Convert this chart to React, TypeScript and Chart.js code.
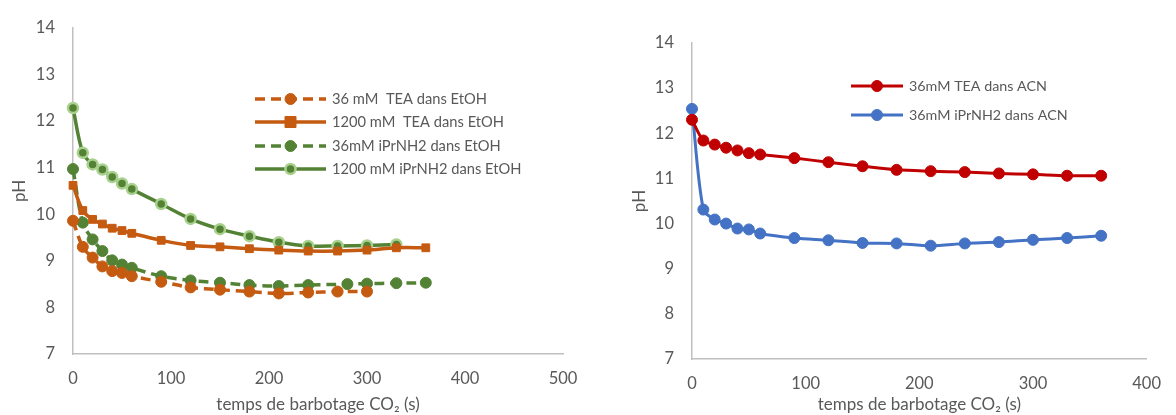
import React, { useEffect, useRef } from 'react';
import { Chart, registerables } from 'chart.js';

Chart.register(...registerables);

const FONT = 'Lato, "Open Sans", sans-serif';
const TEXT = '#595959';
const AXIS = '#BFBFBF';

// ---- Left chart: EtOH ----
const leftXRange = [0, 500];
const leftYRange = [7, 14];

const tea36EtohLabel = '36 mM  TEA dans EtOH';
const tea36EtohX = [0, 10, 20, 30, 40, 50, 60, 90, 120, 150, 180, 210, 240, 270, 300];
const tea36EtohY = [9.86, 9.3, 9.07, 8.88, 8.78, 8.74, 8.67, 8.55, 8.43, 8.38, 8.34, 8.3, 8.32, 8.34, 8.34];

const tea1200EtohLabel = '1200 mM  TEA dans EtOH';
const tea1200EtohX = [0, 10, 20, 30, 40, 50, 60, 90, 120, 150, 180, 210, 240, 270, 300, 330, 360];
const tea1200EtohY = [10.62, 10.08, 9.89, 9.79, 9.7, 9.65, 9.59, 9.44, 9.33, 9.3, 9.26, 9.23, 9.21, 9.21, 9.23, 9.28, 9.28];

const ipr36EtohLabel = '36mM iPrNH2 dans EtOH';
const ipr36EtohX = [0, 10, 20, 30, 40, 50, 60, 90, 120, 150, 180, 210, 240, 280, 300, 330, 360];
const ipr36EtohY = [10.97, 9.82, 9.46, 9.21, 9.01, 8.92, 8.85, 8.67, 8.58, 8.53, 8.48, 8.46, 8.48, 8.5, 8.51, 8.52, 8.53];

const ipr1200EtohLabel = '1200 mM iPrNH2 dans EtOH';
const ipr1200EtohX = [0, 10, 20, 30, 40, 50, 60, 90, 120, 150, 180, 210, 240, 270, 300, 330];
const ipr1200EtohY = [12.28, 11.32, 11.07, 10.96, 10.8, 10.66, 10.54, 10.22, 9.9, 9.68, 9.53, 9.4, 9.32, 9.32, 9.33, 9.35];

// ---- Right chart: ACN ----
const rightXRange = [0, 400];
const rightYRange = [7, 14];

const teaAcnLabel = '36mM TEA dans ACN';
const iprAcnLabel = '36mM iPrNH2 dans ACN';
const acnX = [0, 10, 20, 30, 40, 50, 60, 90, 120, 150, 180, 210, 240, 270, 300, 330, 360];
const teaAcnY = [12.3, 11.84, 11.75, 11.68, 11.62, 11.56, 11.53, 11.45, 11.36, 11.27, 11.19, 11.16, 11.14, 11.11, 11.09, 11.06, 11.06];
const iprAcnY = [12.54, 10.31, 10.09, 10.0, 9.89, 9.87, 9.78, 9.68, 9.63, 9.57, 9.56, 9.51, 9.56, 9.59, 9.64, 9.68, 9.73];

const xTitle = 'temps de barbotage CO\u2082 (s)';
const yTitle = 'pH';

const pts = (xs: number[], ys: number[]) => xs.map((x, i) => ({ x, y: ys[i] }));

type LegendItem = { index: number; y: number };

function makeLegendPlugin(items: LegendItem[], x1: number, x2: number, tx: number, fontSize: number) {
  return {
    id: 'customLegend',
    afterDraw(chart: any) {
      const ctx = chart.ctx as CanvasRenderingContext2D;
      items.forEach((it) => {
        const ds: any = chart.data.datasets[it.index];
        ctx.save();
        ctx.strokeStyle = ds.borderColor;
        ctx.lineWidth = ds.borderWidth;
        ctx.setLineDash(ds.borderDash || []);
        ctx.beginPath();
        ctx.moveTo(x1, it.y);
        ctx.lineTo(x2, it.y);
        ctx.stroke();
        ctx.setLineDash([]);
        const mx = (x1 + x2) / 2;
        const r = ds.pointRadius;
        ctx.fillStyle = ds.pointBackgroundColor;
        ctx.strokeStyle = ds.pointBorderColor;
        ctx.lineWidth = ds.pointBorderWidth;
        ctx.beginPath();
        if (ds.pointStyle === 'rect') {
          ctx.rect(mx - r, it.y - r, 2 * r, 2 * r);
        } else {
          ctx.arc(mx, it.y, r, 0, Math.PI * 2);
        }
        ctx.fill();
        if (ds.pointBorderWidth) ctx.stroke();
        ctx.fillStyle = TEXT;
        ctx.font = `${fontSize}px ${FONT}`;
        ctx.textBaseline = 'middle';
        ctx.textAlign = 'left';
        ctx.fillText(ds.label, tx, it.y);
        ctx.restore();
      });
    },
  };
}

function axes(xr: number[], yr: number[], yWidth: number, xHeight: number) {
  const tickFont = { family: FONT, size: 16.5 };
  const titleFont = { family: FONT, size: 17 };
  return {
    x: {
      type: 'linear',
      min: xr[0],
      max: xr[1],
      ticks: { stepSize: 100, color: TEXT, font: tickFont, padding: 15 },
      grid: { display: false, drawTicks: false },
      border: { display: true, color: AXIS, width: 1.5 },
      title: { display: true, text: xTitle, color: TEXT, font: titleFont, padding: 0 },
      afterFit: (s: any) => { s.height = xHeight; },
    },
    y: {
      type: 'linear',
      min: yr[0],
      max: yr[1],
      ticks: { stepSize: 1, color: TEXT, font: tickFont, padding: 18 },
      grid: { display: false, drawTicks: false },
      border: { display: true, color: AXIS, width: 1.5 },
      title: { display: true, text: yTitle, color: TEXT, font: titleFont, padding: 9 },
      afterFit: (s: any) => { s.width = yWidth; },
    },
  };
}

function ChartBox({ make, style }: { make: () => any; style: React.CSSProperties }) {
  const ref = useRef<HTMLCanvasElement | null>(null);
  useEffect(() => {
    const chart = new Chart(ref.current as HTMLCanvasElement, make());
    return () => chart.destroy();
  }, []);
  return (
    <div style={{ position: 'absolute', ...style }}>
      <canvas ref={ref} />
    </div>
  );
}

const ORANGE = '#C55A11';
const GREEN = '#548235';
const LGREEN = '#A9D18E';
const RED = '#C00000';
const BLUE = '#4472C4';

function leftConfig() {
  const common = { clip: false, tension: 0.35, pointBorderWidth: 1, pointHoverRadius: 5 };
  return {
    type: 'line',
    data: {
      datasets: [
        { ...common, label: tea36EtohLabel, data: pts(tea36EtohX, tea36EtohY), borderColor: ORANGE, borderWidth: 3.5, borderDash: [10, 6],
          pointStyle: 'circle', pointRadius: 5.5, pointBackgroundColor: ORANGE, pointBorderColor: ORANGE },
        { ...common, label: tea1200EtohLabel, data: pts(tea1200EtohX, tea1200EtohY), borderColor: ORANGE, borderWidth: 3.5,
          pointStyle: 'rect', pointRadius: 5.5, pointBackgroundColor: ORANGE, pointBorderColor: ORANGE },
        { ...common, label: ipr36EtohLabel, data: pts(ipr36EtohX, ipr36EtohY), borderColor: GREEN, borderWidth: 3.5, borderDash: [10, 6],
          pointStyle: 'circle', pointRadius: 5.5, pointBackgroundColor: GREEN, pointBorderColor: GREEN },
        { ...common, label: ipr1200EtohLabel, data: pts(ipr1200EtohX, ipr1200EtohY), borderColor: GREEN, borderWidth: 3.5,
          pointStyle: 'circle', pointRadius: 5, pointBackgroundColor: GREEN, pointBorderColor: LGREEN, pointBorderWidth: 2.5 },
      ],
    },
    options: {
      responsive: true,
      maintainAspectRatio: false,
      animation: false,
      layout: { padding: { left: 0, right: 37, top: 20, bottom: 0 } },
      plugins: { legend: { display: false }, tooltip: { enabled: false } },
      scales: axes(leftXRange, leftYRange, 73, 61),
    },
    plugins: [
      makeLegendPlugin(
        [
          { index: 0, y: 99 },
          { index: 1, y: 122 },
          { index: 2, y: 146 },
          { index: 3, y: 169 },
        ],
        255, 326, 332, 14.7,
      ),
    ],
  };
}

function rightConfig() {
  const common = { clip: false, tension: 0.3, pointBorderWidth: 1, pointHoverRadius: 5, borderWidth: 3, pointRadius: 5.5, pointStyle: 'circle' };
  return {
    type: 'line',
    data: {
      datasets: [
        { ...common, label: teaAcnLabel, data: pts(acnX, teaAcnY), borderColor: RED, pointBackgroundColor: RED, pointBorderColor: RED },
        { ...common, label: iprAcnLabel, data: pts(acnX, iprAcnY), borderColor: BLUE, pointBackgroundColor: BLUE, pointBorderColor: BLUE },
      ],
    },
    options: {
      responsive: true,
      maintainAspectRatio: false,
      animation: false,
      layout: { padding: { left: 0, right: 16, top: 43, bottom: 0 } },
      plugins: { legend: { display: false }, tooltip: { enabled: false } },
      scales: axes(rightXRange, rightYRange, 72, 56),
    },
    plugins: [
      makeLegendPlugin(
        [
          { index: 0, y: 86 },
          { index: 1, y: 115 },
        ],
        231, 283, 289, 14.3,
      ),
    ],
  };
}

export default function App() {
  return (
    <div style={{ position: 'fixed', left: 0, top: 0, width: 1176, height: 415, background: '#fff', overflow: 'hidden' }}>
      <ChartBox make={leftConfig} style={{ left: 0, top: 0, width: 600, height: 415 }} />
      <ChartBox make={rightConfig} style={{ left: 620, top: 0, width: 556, height: 415 }} />
    </div>
  );
}
